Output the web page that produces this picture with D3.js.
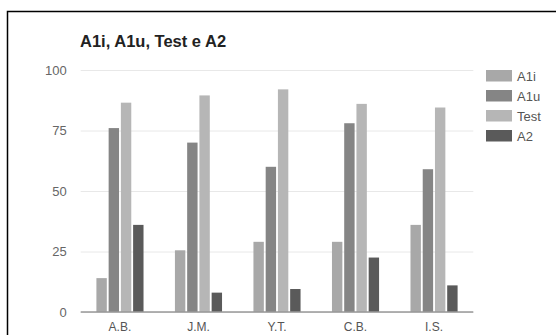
<!DOCTYPE html>
<html><head><meta charset="utf-8">
<script src="https://cdn.jsdelivr.net/npm/d3@7"></script>
<style>
html,body{margin:0;padding:0;background:#fff;}
svg{display:block;font-family:"Liberation Sans",Arial,sans-serif;}
</style></head>
<body>
<svg id="chart" width="556" height="335"></svg>
<script>
const categories = ["A.B.", "J.M.", "Y.T.", "C.B.", "I.S."];
const seriesNames = ["A1i", "A1u", "Test", "A2"];
const A1i  = [14, 25.5, 29, 29, 36];
const A1u  = [76, 70, 60, 78, 59];
const Test = [86.5, 89.5, 92, 86, 84.5];
const A2   = [36, 8, 9.5, 22.5, 11];
const yTicks = [0, 25, 50, 75, 100];
const colors = ["#a8a8a8", "#858585", "#b6b6b6", "#5a5a5a"];
const title = "A1i, A1u, Test e A2";

(function () {
const seriesValues = [A1i, A1u, Test, A2];
const svg = d3.select("#chart");

// frame
svg.append("rect").attr("x", 7.5).attr("y", 11.5).attr("width", 600).attr("height", 400)
  .attr("fill", "#fff").attr("stroke", "#000").attr("stroke-width", 1.5);

const pl = 80.7, pr = 473.3, pt = 70, pb = 312;
const x0 = d3.scaleBand().domain(categories).range([pl, pr]).paddingInner(0.4).paddingOuter(0.2);
const x1 = d3.scaleBand().domain(seriesNames).range([0, x0.bandwidth()]).paddingInner(0.15);
const y = d3.scaleLinear().domain([0, 100]).range([pb, pt]);

// gridlines
const grid = svg.append("g").attr("transform", `translate(${pl},0)`)
  .call(d3.axisLeft(y).tickValues(yTicks).tickSize(-(pr - pl)).tickFormat(""));
grid.select(".domain").remove();
grid.selectAll("line").attr("stroke", "#e8e8e8").attr("stroke-width", 1);

// y labels
const yAxis = svg.append("g").attr("transform", `translate(${pl},0)`)
  .call(d3.axisLeft(y).tickValues(yTicks).tickSize(0).tickPadding(14));
yAxis.select(".domain").remove();
yAxis.selectAll("text").attr("font-size", 13).attr("fill", "#666").attr("font-family", "Liberation Sans, Arial, sans-serif");

// bars
const groups = svg.append("g").selectAll("g").data(categories).join("g")
  .attr("transform", d => `translate(${x0(d)},0)`);
groups.selectAll("rect")
  .data((d, i) => seriesNames.map((s, j) => ({ s, v: seriesValues[j][i], j })))
  .join("rect")
  .attr("x", d => x1(d.s))
  .attr("width", x1.bandwidth())
  .attr("y", d => y(d.v))
  .attr("height", d => y(0) - y(d.v))
  .attr("fill", d => colors[d.j]);

// x axis
const xAxis = svg.append("g").attr("transform", `translate(0,${pb})`)
  .call(d3.axisBottom(x0).tickSize(0).tickPadding(10));
xAxis.select(".domain").attr("stroke", "#999").attr("stroke-width", 1.3)
  .attr("d", `M${pl},0H${pr}`);
xAxis.selectAll("text").attr("font-size", 12).attr("fill", "#555").attr("font-family", "Liberation Sans, Arial, sans-serif");

// title
svg.append("text").attr("x", 80).attr("y", 47).attr("font-size", 16.5).attr("font-weight", "bold")
  .attr("fill", "#222").text(title);

// legend
const legend = svg.append("g").selectAll("g").data(seriesNames).join("g")
  .attr("transform", (d, i) => `translate(486,${70 + i * 20})`);
legend.append("rect").attr("width", 26).attr("height", 11.5).attr("fill", (d, i) => colors[i]);
legend.append("text").attr("x", 31).attr("y", 10.5).attr("font-size", 13).attr("fill", "#555").text(d => d);
})();
</script>
</body></html>
